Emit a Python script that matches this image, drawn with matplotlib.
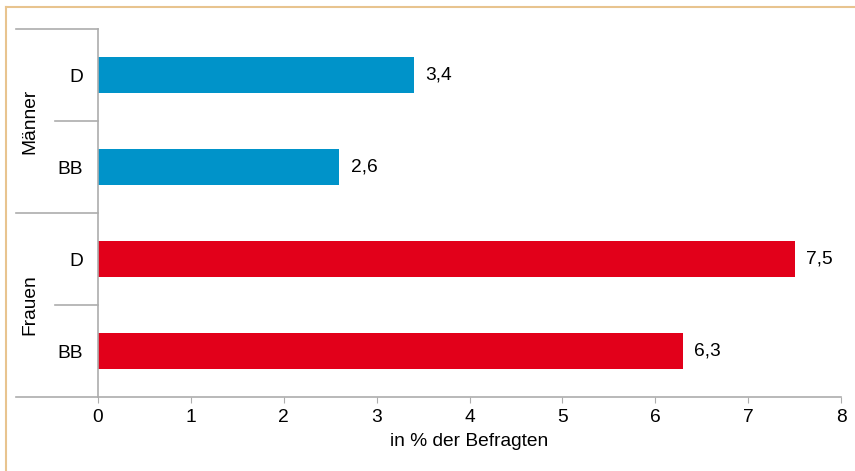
import matplotlib.pyplot as plt
from matplotlib.lines import Line2D

plt.rcParams['font.family'] = ['Liberation Sans', 'DejaVu Sans']

# data (bottom to top)
groups = ['Frauen', 'Männer']
categories = ['BB', 'D', 'BB', 'D']
values = [6.3, 7.5, 2.6, 3.4]
colors = ['#E2001A', '#E2001A', '#0093C9', '#0093C9']

gray = '#ADADAD'
fs = 13.8

fig = plt.figure(figsize=(8.55, 4.71), dpi=100)
ax = fig.add_axes([98 / 855, 74 / 471, 743 / 855, 368 / 471])

pos = range(len(values))
ax.barh(pos, values, height=0.4, color=colors)
for p, v in zip(pos, values):
    ax.annotate(f'{v:.1f}'.replace('.', ','), (v, p), xytext=(8, 0),
                textcoords='offset points', va='center', ha='left', fontsize=fs)

ax.set_xlim(0, 8)
ax.set_ylim(-0.5, 3.5)
ax.set_xticks(range(9))
ax.set_yticks(list(pos))
ax.set_yticklabels(categories, fontsize=fs)
ax.tick_params(axis='y', length=0, pad=11)
ax.tick_params(axis='x', length=4, color=gray, labelsize=fs, pad=5)
ax.set_xlabel('in % der Befragten', fontsize=fs, labelpad=5)

for s in ['top', 'right']:
    ax.spines[s].set_visible(False)
for s in ['left', 'bottom']:
    ax.spines[s].set_color(gray)
    ax.spines[s].set_linewidth(1.2)

# group separators
trans = ax.get_yaxis_transform()
for y in [-0.5, 1.5, 3.5]:
    ax.plot([-0.11, 0], [y, y], color=gray, lw=1.2, transform=trans, clip_on=False)
for y in [0.5, 2.5]:
    ax.plot([-0.058, 0], [y, y], color=gray, lw=1.2, transform=trans, clip_on=False)
ax.text(-0.092, 0.5, 'Frauen', rotation=90, ha='center', va='center',
        fontsize=fs, transform=trans)
ax.text(-0.092, 2.5, 'Männer', rotation=90, ha='center', va='center',
        fontsize=fs, transform=trans)

# frame lines of the figure (top and left)
border = '#E8C48F'
fig.add_artist(Line2D([6 / 855, 6 / 855], [0, 1 - 7 / 471], color=border, lw=1.5))
fig.add_artist(Line2D([6 / 855, 1], [1 - 7 / 471, 1 - 7 / 471], color=border, lw=1.5))

fig.savefig('out.png', dpi=100)
